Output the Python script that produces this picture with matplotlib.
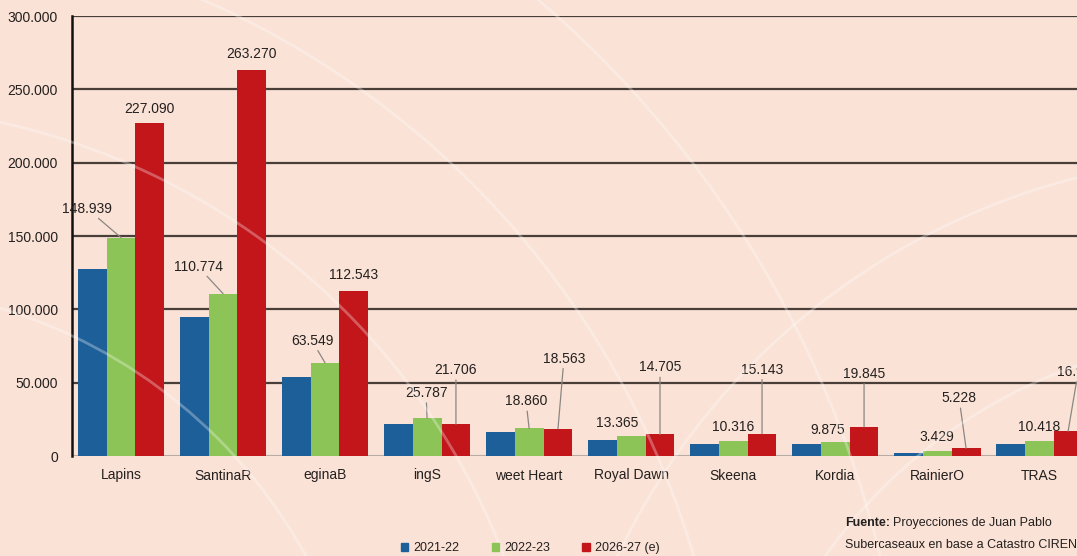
import numpy as np
import matplotlib
matplotlib.use('Agg')
import matplotlib.pyplot as plt
from matplotlib.patches import Patch, Circle

plt.rcParams['font.family'] = ['Liberation Sans', 'DejaVu Sans']

# datos (hectáreas de cerezos por variedad)
variedades = ['Lapins', 'SantinaR', 'eginaB', 'ingS', 'weet Heart', 'Royal Dawn',
              'Skeena', 'Kordia', 'RainierO', 'TRAS']
s2122 = [127500, 94600, 53700, 21500, 16100, 11100, 8000, 8000, 2300, 8000]
s2223 = [148939, 110774, 63549, 25787, 18860, 13365, 10316, 9875, 3429, 10418]
s2627 = [227090, 263270, 112543, 21706, 18563, 14705, 15143, 19845, 5228, 16940]
etiq_2223 = ['148.939', '110.774', '63.549', '25.787', '18.860', '13.365',
             '10.316', '9.875', '3.429', '10.418']
etiq_2627 = ['227.090', '263.270', '112.543', '21.706', '18.563', '14.705',
             '15.143', '19.845', '5.228', '16.940']
yticks = [0, 50000, 100000, 150000, 200000, 250000, 300000]
ytick_lbl = ['0', '50.000', '100.000', '150.000', '200.000', '250.000', '300.000']
series = ['2021-22', '2022-23', '2026-27 (e)']

# posiciones de etiquetas (offset en pixeles desde el tope de la barra, con linea o no)
off_2223 = [(-34, 29, True), (-25, 27, True), (-13, 22, True), (-1, 25, True),
            (-3, 27, True), (-14, 13, False), (0, 14, False), (-8, 12, False),
            (0, 14, False), (0, 14, False)]
off_2627 = [(0, 14, False), (0, 16, False), (0, 16, False), (0, 54, True),
            (6, 70, True), (0, 67, True), (0, 64, True), (0, 53, True),
            (-7, 50, True), (10, 59, True)]

azul = '#1d5f98'
verde = '#8cc457'
rojo = '#c2161b'
fondo = '#fae2d6'
texto = '#24201e'

fig = plt.figure(figsize=(10.77, 5.56), dpi=100)
fig.patch.set_facecolor(fondo)

# arcos decorativos del fondo
for (cx, cy, r) in [(-150, -250, 520), (-150, -250, 700), (-150, -250, 880),
                    (-150, -250, 1060), (1250, -300, 520), (1250, -300, 700)]:
    c = Circle((cx, cy), r, transform=None, fill=False, ec='white', lw=2, alpha=0.3)
    fig.patches.append(c)

ax = fig.add_axes([72 / 1077, 100 / 556, 1 - 72 / 1077, 440 / 556])
ax.set_facecolor('none')

x = np.arange(len(variedades))
w = 0.283
ax.bar(x - w, s2122, w, color=azul, zorder=3)
ax.bar(x, s2223, w, color=verde, zorder=3)
ax.bar(x + w, s2627, w, color=rojo, zorder=3)

ax.set_ylim(0, 300000)
ax.set_xlim(-0.48, 9.37)
ax.set_yticks(yticks)
ax.set_yticklabels(ytick_lbl, fontsize=10, color=texto)
ax.set_xticks(x)
ax.set_xticklabels(variedades, fontsize=10, color=texto)
ax.tick_params(length=0, pad=10)
ax.tick_params(axis='x', pad=9)

for yv in yticks[1:]:
    ax.axhline(yv, color='#4a3e39', lw=1.6, zorder=1)
ax.axhline(0, color='#b8aca6', lw=1.5, zorder=2)
for s in ['top', 'right', 'bottom']:
    ax.spines[s].set_visible(False)
ax.spines['left'].set_color('#111111')
ax.spines['left'].set_linewidth(1.8)

def rotular(xs, vals, etiqs, offs):
    for xi, v, t, (dx, dy, linea) in zip(xs, vals, etiqs, offs):
        kw = {}
        if linea:
            kw['arrowprops'] = dict(arrowstyle='-', color='#8c8682', lw=0.9,
                                    shrinkA=0, shrinkB=0)
        ax.annotate(t, xy=(xi, v), xytext=(dx, dy), textcoords='offset pixels',
                    ha='center', va='center', fontsize=10, color=texto,
                    zorder=5, annotation_clip=False, **kw)

rotular(x, s2223, etiq_2223, off_2223)
rotular(x + w, s2627, etiq_2627, off_2627)

handles = [Patch(color=azul), Patch(color=verde), Patch(color=rojo)]
fig.legend(handles, series, loc='center', bbox_to_anchor=(530 / 1077, 1 - 548 / 556),
           ncol=3, frameon=False, fontsize=9, handlelength=0.6, handleheight=0.6,
           handletextpad=0.4, columnspacing=2.6, labelcolor=texto)

fig.text(845 / 1077, 1 - 523 / 556, 'Fuente:', fontsize=9, fontweight='bold',
         color=texto, va='center')
fig.text(893 / 1077, 1 - 523 / 556, 'Proyecciones de Juan Pablo', fontsize=9,
         color=texto, va='center')
fig.text(845 / 1077, 1 - 545 / 556, 'Subercaseaux en base a Catastro CIREN', fontsize=9,
         color=texto, va='center')

fig.savefig('out.png', dpi=100, facecolor=fondo)
